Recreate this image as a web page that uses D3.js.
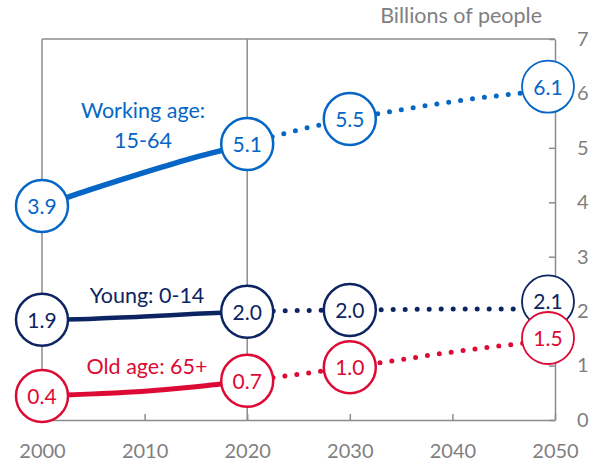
<!DOCTYPE html>
<html>
<head>
<meta charset="utf-8">
<script src="https://cdn.jsdelivr.net/npm/d3@7"></script>
<style>
  body { margin: 0; background: #fff; }
  svg { font-family: Lato, "Open Sans", sans-serif; }
</style>
</head>
<body>
<div id="chart"></div>
<script>
// historical years (solid) and projection years (dotted)
var histYears = [2000, 2005, 2010, 2015, 2020];
var projYears = [2020, 2025, 2030, 2035, 2040, 2045, 2050];

// billions of people
var working     = [3.93, 4.25, 4.55, 4.83, 5.07];
var workingProj = [5.07, 5.33, 5.53, 5.70, 5.85, 5.97, 6.07];
var young       = [1.84, 1.86, 1.90, 1.95, 1.99];
var youngProj   = [1.99, 2.01, 2.02, 2.03, 2.04, 2.04, 2.05];
var old         = [0.44, 0.48, 0.53, 0.61, 0.72];
var oldProj     = [0.72, 0.84, 0.97, 1.11, 1.25, 1.37, 1.47];

// circled labels
var labelYears    = [2000, 2020, 2030, 2050];
var workingLabels = ["3.9", "5.1", "5.5", "6.1"];
var youngLabels   = ["1.9", "2.0", "2.0", "2.1"];
var oldLabels     = ["0.4", "0.7", "1.0", "1.5"];

// axis ticks
var xTicks = [2000, 2010, 2020, 2030, 2040, 2050];
var yTicks = [0, 1, 2, 3, 4, 5, 6, 7];

var series = [
    {name: ["Working age:", "15-64"], color: "#0566c6", hist: working, proj: workingProj, labels: workingLabels, width: 5.5, nudge: -3},
    {name: ["Young: 0-14"], color: "#0c2461", hist: young, proj: youngProj, labels: youngLabels, width: 4.5, nudge: -7},
    {name: ["Old age: 65+"], color: "#dc0a34", hist: old, proj: oldProj, labels: oldLabels, width: 5, nudge: -2}
];

var width = 597, height = 464;
var gray = "#7f7f7f";

var svg = d3.select("#chart").append("svg")
    .attr("width", width)
    .attr("height", height);

// scales
var x = d3.scaleLinear().domain([2000, 2050]).range([42, 555]);
var y = d3.scaleLinear().domain([0, 7]).range([420, 39]);

// frame: top line, vertical lines at 2000 and 2020
var frame = svg.append("g").attr("stroke", "#8c8c8c").attr("stroke-width", 1.5);
frame.append("line").attr("x1", x(2000)).attr("x2", x(2050)).attr("y1", y(7)).attr("y2", y(7));
[2000, 2020].forEach(function(yr){
    frame.append("line").attr("x1", x(yr)).attr("x2", x(yr)).attr("y1", y(7)).attr("y2", y(0));
});

// bottom axis
var xaxis = d3.axisBottom(x).tickValues(xTicks).tickSize(-6).tickSizeOuter(0).tickPadding(24).tickFormat(d3.format("d"));
var gx = svg.append("g").attr("transform", "translate(0," + y(0) + ")").call(xaxis);

// right axis
var yaxis = d3.axisRight(y).tickValues(yTicks).tickSize(-6).tickSizeOuter(0).tickPadding(22).tickFormat(d3.format("d"));
var gy = svg.append("g").attr("transform", "translate(" + x(2050) + ",0)").call(yaxis);

[gx, gy].forEach(function(g){
    g.select(".domain").attr("stroke", "#8c8c8c").attr("stroke-width", 1.5);
    g.selectAll(".tick line").attr("stroke", "#8c8c8c").attr("stroke-width", 1.5);
    g.selectAll(".tick text").attr("fill", gray).attr("font-size", 20).attr("font-family", "Lato, sans-serif");
});

// axis title
svg.append("text")
    .attr("x", 542).attr("y", 23)
    .attr("text-anchor", "end")
    .attr("fill", gray)
    .attr("font-size", 21.5)
    .text("Billions of people");

// lines
var line = d3.line().curve(d3.curveMonotoneX);

series.forEach(function(s){
    svg.append("path")
        .attr("d", line(histYears.map(function(yr, i){ return [x(yr), y(s.hist[i])]; })))
        .attr("fill", "none")
        .attr("stroke", s.color)
        .attr("stroke-width", s.width);
    svg.append("path")
        .attr("d", line(projYears.map(function(yr, i){ return [x(yr), y(s.proj[i])]; })))
        .attr("fill", "none")
        .attr("stroke", s.color)
        .attr("stroke-width", 5)
        .attr("stroke-linecap", "round")
        .attr("stroke-dasharray", "0 12")
        .attr("stroke-dashoffset", -2);
});

// value of a series at a label year
function valueAt(s, yr){
    var i = histYears.indexOf(yr);
    if(i >= 0){ return s.hist[i]; }
    return s.proj[projYears.indexOf(yr)];
}

// circled labels
series.forEach(function(s){
    labelYears.forEach(function(yr, k){
        var last = yr === 2050;
        var cx = x(yr) - (last ? 7 : 0);
        var cy = y(valueAt(s, yr)) + (last ? s.nudge : 0);
        var g = svg.append("g").attr("transform", "translate(" + cx + "," + cy + ")");
        g.append("circle")
            .attr("r", 26)
            .attr("fill", "#fff")
            .attr("stroke", s.color)
            .attr("stroke-width", last ? 1.8 : 2.5);
        g.append("text")
            .attr("text-anchor", "middle")
            .attr("dy", "0.38em")
            .attr("fill", s.color)
            .attr("font-size", 21)
            .text(s.labels[k]);
    });
});

// series names
var namePos = [[143, 118], [147, 303], [147, 374]];
series.forEach(function(s, i){
    var t = svg.append("text")
        .attr("x", namePos[i][0]).attr("y", namePos[i][1])
        .attr("text-anchor", "middle")
        .attr("fill", s.color)
        .attr("font-size", 21.5);
    s.name.forEach(function(n, j){
        t.append("tspan").attr("x", namePos[i][0]).attr("dy", j ? 30 : 0).text(n);
    });
});
</script>
</body>
</html>
